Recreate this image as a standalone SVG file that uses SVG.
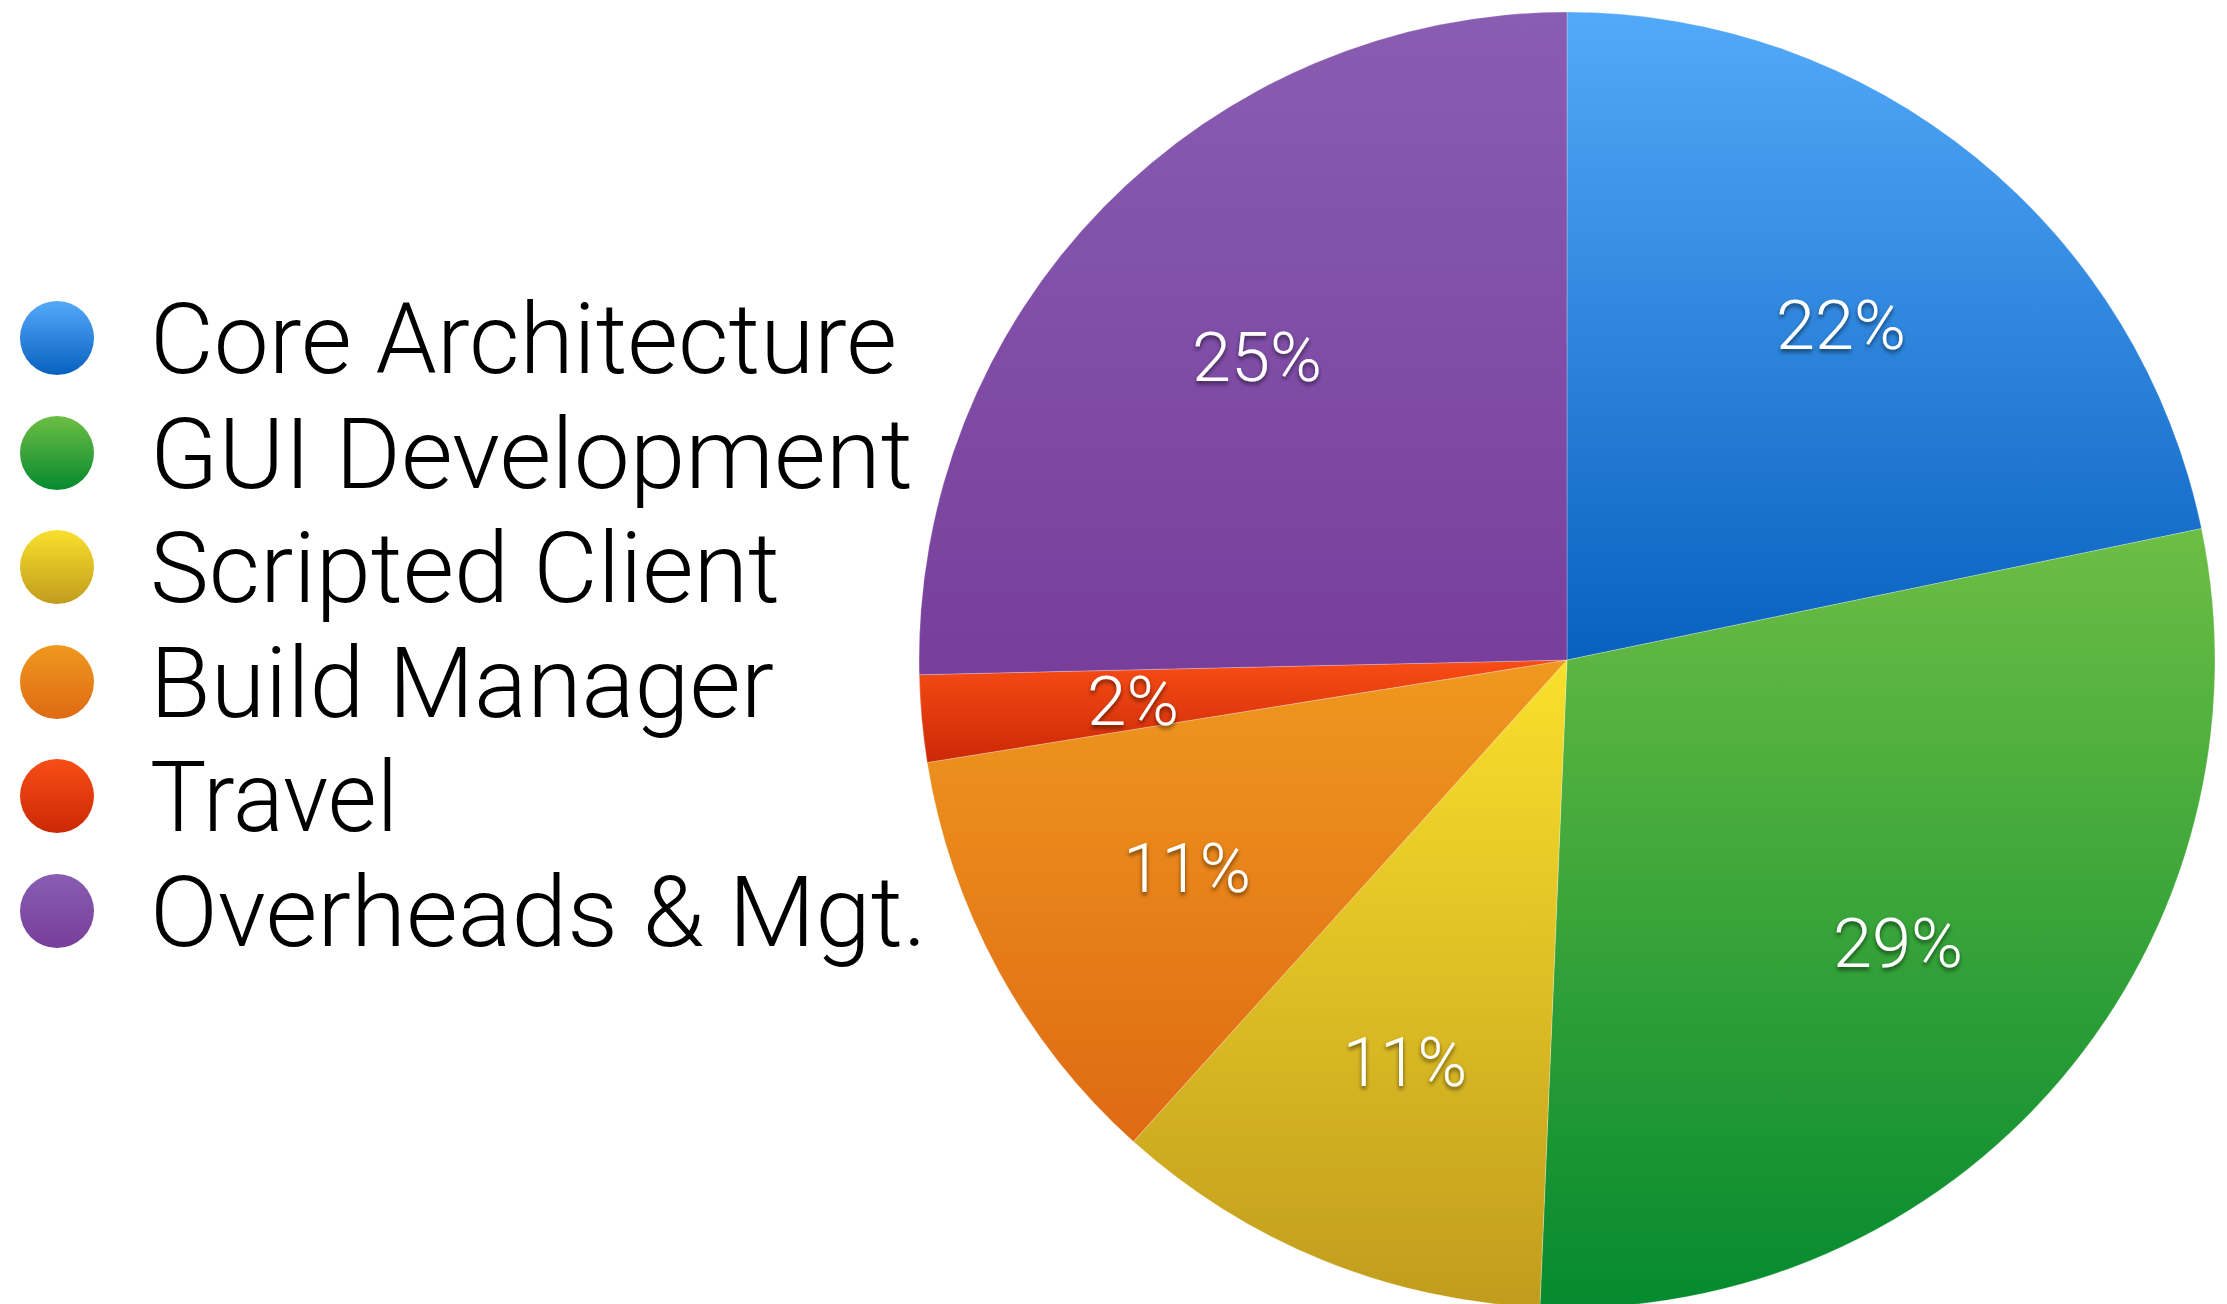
<svg xmlns="http://www.w3.org/2000/svg" width="2227" height="1304" viewBox="0 0 2227 1304">
<defs>
<linearGradient id="gBlue" x1="0" y1="0" x2="0" y2="1"><stop offset="0" stop-color="#53A9F9"/><stop offset="1" stop-color="#0861BF"/></linearGradient>
<linearGradient id="gGreen" x1="0" y1="0" x2="0" y2="1"><stop offset="0" stop-color="#6DBE44"/><stop offset="1" stop-color="#058A2F"/></linearGradient>
<linearGradient id="gYellow" x1="0" y1="0" x2="0" y2="1"><stop offset="0" stop-color="#F9E02C"/><stop offset="1" stop-color="#C19C1D"/></linearGradient>
<linearGradient id="gOrange" x1="0" y1="0" x2="0" y2="1"><stop offset="0" stop-color="#EF981F"/><stop offset="1" stop-color="#DF6A13"/></linearGradient>
<linearGradient id="gRed" x1="0" y1="0" x2="0" y2="1"><stop offset="0" stop-color="#F94D16"/><stop offset="1" stop-color="#CB2806"/></linearGradient>
<linearGradient id="gPurple" x1="0" y1="0" x2="0" y2="1"><stop offset="0" stop-color="#895DB2"/><stop offset="1" stop-color="#773E9B"/></linearGradient>
<filter id="shadow" x="-20%" y="-30%" width="140%" height="170%">
<feDropShadow dx="0" dy="3" stdDeviation="2" flood-color="#000" flood-opacity="0.55"/>
</filter>
<style>
.legend{font-family:Roboto,"Liberation Sans",Arial,sans-serif;font-weight:300;font-size:98px;fill:#000;}
.pct{font-family:Roboto,"Liberation Sans",Arial,sans-serif;font-weight:300;font-size:68px;fill:#fff;text-anchor:middle;filter:url(#shadow);}
.slice{stroke:#fff;stroke-opacity:0.25;stroke-width:1;}
</style>
</defs>
<rect width="2227" height="1304" fill="#fff"/>
<g id="pie">
<g id="slice-core"><path class="slice" d="M1567,660 L1567,12 A648,648 0 0 1 2201.5,528.6 Z" fill="url(#gBlue)"/></g>
<g id="slice-gui"><path class="slice" d="M1567,660 L2201.5,528.6 A648,648 0 0 1 1539.9,1307.4 Z" fill="url(#gGreen)"/></g>
<g id="slice-scripted"><path class="slice" d="M1567,660 L1539.9,1307.4 A648,648 0 0 1 1133.4,1141.6 Z" fill="url(#gYellow)"/></g>
<g id="slice-build"><path class="slice" d="M1567,660 L1133.4,1141.6 A648,648 0 0 1 927.2,762.5 Z" fill="url(#gOrange)"/></g>
<g id="slice-travel"><path class="slice" d="M1567,660 L927.2,762.5 A648,648 0 0 1 919.2,674.7 Z" fill="url(#gRed)"/></g>
<g id="slice-overheads"><path class="slice" d="M1567,660 L919.2,674.7 A648,648 0 0 1 1567,12 Z" fill="url(#gPurple)"/></g>
</g>
<g id="pct-labels">
<text class="pct" x="1841" y="349" textLength="130" lengthAdjust="spacingAndGlyphs">22%</text>
<text class="pct" x="1898" y="967" textLength="130" lengthAdjust="spacingAndGlyphs">29%</text>
<text class="pct" x="1405" y="1086" textLength="124" lengthAdjust="spacingAndGlyphs">11%</text>
<text class="pct" x="1187" y="892" textLength="128" lengthAdjust="spacingAndGlyphs">11%</text>
<text class="pct" x="1133" y="725" textLength="92" lengthAdjust="spacingAndGlyphs">2%</text>
<text class="pct" x="1257" y="381" textLength="130" lengthAdjust="spacingAndGlyphs">25%</text>
</g>
<g id="legend">
<g id="legend-core"><circle cx="57" cy="338" r="37" fill="url(#gBlue)"/><text class="legend" x="150" y="373" textLength="747" lengthAdjust="spacingAndGlyphs">Core Architecture</text></g>
<g id="legend-gui"><circle cx="57" cy="453" r="37" fill="url(#gGreen)"/><text class="legend" x="150" y="488" textLength="763" lengthAdjust="spacingAndGlyphs">GUI Development</text></g>
<g id="legend-scripted"><circle cx="57" cy="567" r="37" fill="url(#gYellow)"/><text class="legend" x="150" y="602" textLength="630" lengthAdjust="spacingAndGlyphs">Scripted Client</text></g>
<g id="legend-build"><circle cx="57" cy="682" r="37" fill="url(#gOrange)"/><text class="legend" x="150" y="717" textLength="624" lengthAdjust="spacingAndGlyphs">Build Manager</text></g>
<g id="legend-travel"><circle cx="57" cy="796" r="37" fill="url(#gRed)"/><text class="legend" x="150" y="831" textLength="248" lengthAdjust="spacingAndGlyphs">Travel</text></g>
<g id="legend-overheads"><circle cx="57" cy="911" r="37" fill="url(#gPurple)"/><text class="legend" x="150" y="946" textLength="777" lengthAdjust="spacingAndGlyphs">Overheads &amp; Mgt.</text></g>
</g>
</svg>
